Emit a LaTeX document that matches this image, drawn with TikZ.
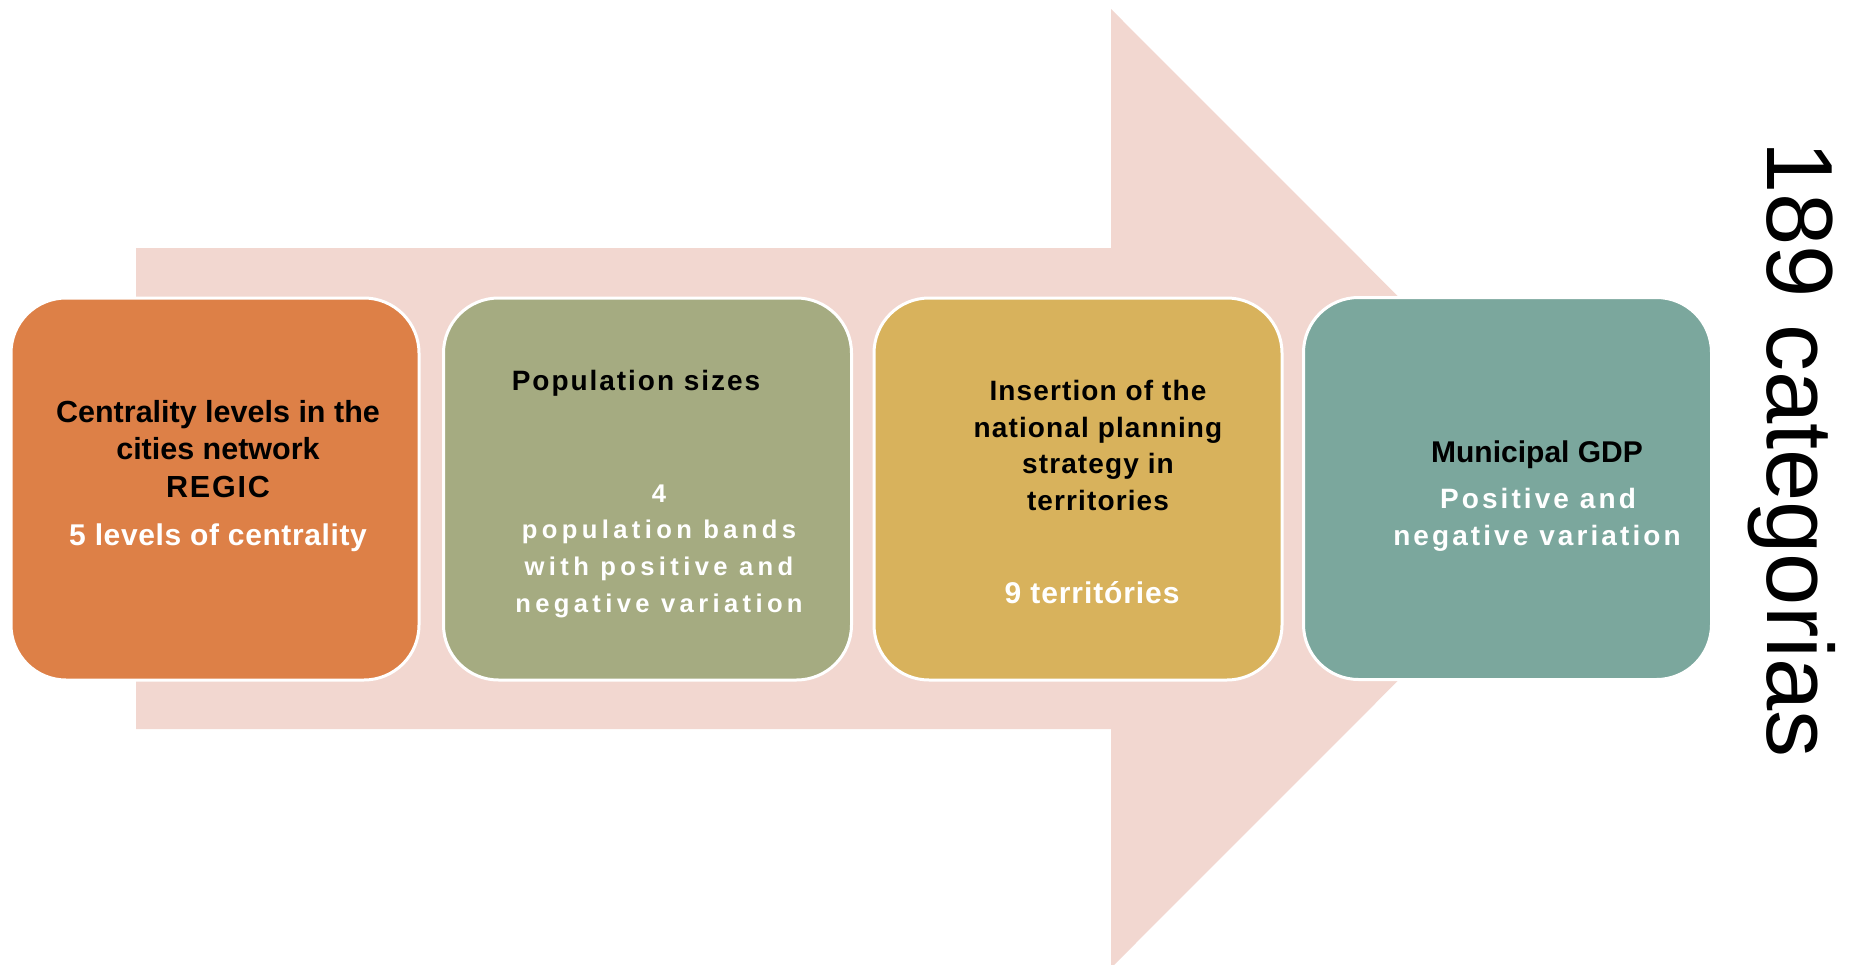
\documentclass[tikz,border=0pt]{standalone}
\usepackage{fontspec}
\setmainfont{Liberation Sans}
\definecolor{arrowpink}{HTML}{F2D7D0}
\definecolor{boxorange}{HTML}{DD8047}
\definecolor{boxolive}{HTML}{A5AB81}
\definecolor{boxgold}{HTML}{D8B25C}
\definecolor{boxteal}{HTML}{7BA79D}
\newcommand{\fs}[3]{\fontsize{#1}{37}\selectfont\bfseries\addfontfeatures{LetterSpace=#2}#3}
\begin{document}
\begin{tikzpicture}[x=1pt,y=-1pt,
  box/.style={draw=white, line width=3pt, rounded corners=55pt, inner sep=0pt,
    minimum width=408pt, minimum height=382pt},
  ln/.style={anchor=base, inner sep=0pt},
  ttl/.style={ln, text=black},
  sub/.style={ln, text=white}]
\useasboundingbox (0,0) rectangle (1850,964);
% big arrow
\fill[arrowpink] (136,248) -- (1111,248) -- (1111,9) -- (1590,488.5) -- (1111,968) -- (1111,729) -- (136,729) -- cycle;
% boxes
\node[box, fill=boxorange] (b1) at (215,489) {};
\node[box, fill=boxolive] (b2) at (647.5,489) {};
\node[box, fill=boxgold] (b3) at (1078,489) {};
\node[box, fill=boxteal] (b4) at (1507.5,488.5) {};
% box 1 text
\node[ttl, font={\fs{30.5}{0}{}}] (t1a) at (218,422) {Centrality levels in the};
\node[ttl, font={\fs{30.5}{0}{}}] (t1b) at (218,459) {cities network};
\node[ttl, font={\fs{30.5}{6}{}}] (t1c) at (218,497) {REGIC};
\node[sub, font={\fs{30}{2}{}}] (s1a) at (218,545) {5 levels of centrality};
% box 2 text
\node[ttl, font={\fs{28}{7}{}}] (t2a) at (636,390) {Population sizes};
\node[sub, font={\fs{25.6}{17}{}}] (s2a) at (659,502) {4};
\node[sub, font={\fs{25.6}{17}{}}] (s2b) at (659,538) {population bands};
\node[sub, font={\fs{25.6}{17}{}}] (s2c) at (659,575) {with positive and};
\node[sub, font={\fs{25.6}{17}{}}] (s2d) at (659,612) {negative variation};
% box 3 text
\node[ttl, font={\fs{28}{4}{}}] (t3a) at (1098,400) {Insertion of the};
\node[ttl, font={\fs{28}{4}{}}] (t3b) at (1098,437) {national planning};
\node[ttl, font={\fs{28}{4}{}}] (t3c) at (1098,473) {strategy in};
\node[ttl, font={\fs{28}{4}{}}] (t3d) at (1098,510) {territories};
\node[sub, font={\fs{30}{3}{}}] (s3a) at (1092,603) {9 territóries};
% box 4 text
\node[ttl, font={\fs{30}{0}{}}] (t4a) at (1537,462) {Municipal GDP};
\node[sub, font={\fs{28}{11}{}}] (s4a) at (1538,508) {Positive and};
\node[sub, font={\fs{28}{11}{}}] (s4b) at (1537,545) {negative variation};
% side label
\node[rotate=-90, anchor=base west, inner sep=0pt, font=\fontsize{94}{100}\selectfont] (cat) at (1767,141) {189 categorias};
\end{tikzpicture}
\end{document}
